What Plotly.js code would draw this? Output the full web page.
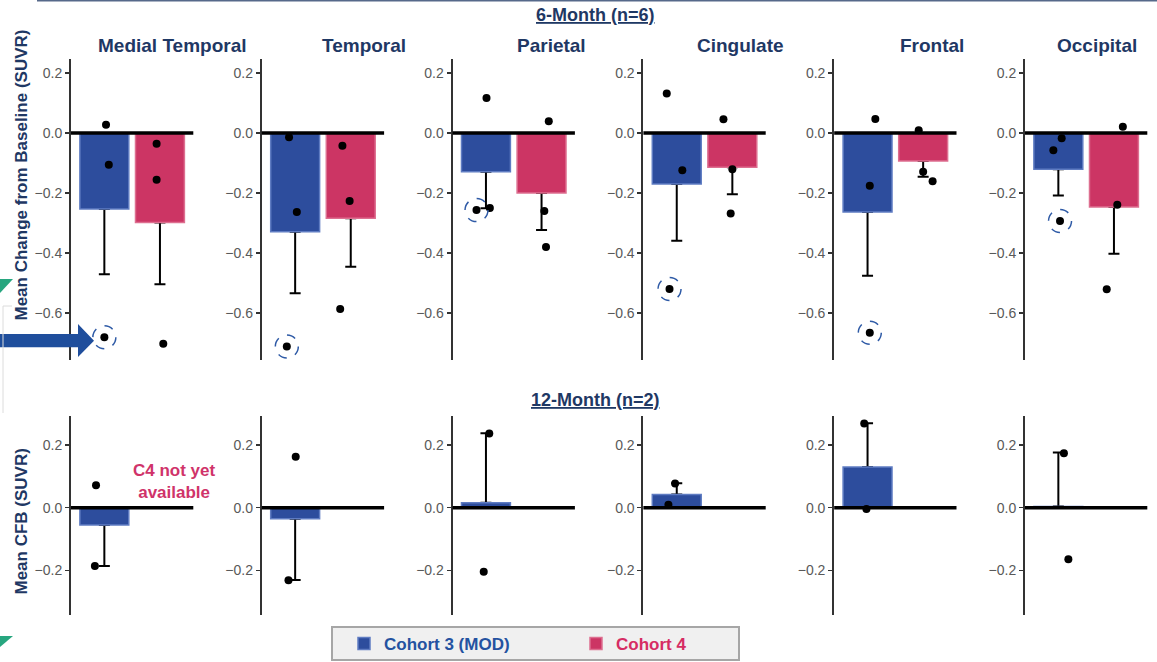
<!DOCTYPE html>
<html><head><meta charset="utf-8">
<script src="https://cdn.plot.ly/plotly-3.0.1.min.js"></script>
<style>html,body{margin:0;padding:0;background:#fff;} #chart{width:1157px;height:662px;}</style>
</head><body><div id="chart"></div>
<script>
// ---------------- DATA ----------------
const regions = ['Medial Temporal', 'Temporal', 'Parietal', 'Cingulate', 'Frontal', 'Occipital'];
const cohorts = ['Cohort 3 (MOD)', 'Cohort 4'];
const rowTitles = ['6-Month (n=6)', '12-Month (n=2)'];
const yTitles = ['Mean Change from Baseline (SUVR)', 'Mean CFB (SUVR)'];
const topTicks = [-0.6, -0.4, -0.2, 0.0, 0.2];
const bottomTicks = [-0.2, 0.0, 0.2];
const noteC4 = 'C4 not yet<br>available';

// 6-month, Cohort 3
const c3m6Mean = [-0.253, -0.329, -0.129, -0.170, -0.263, -0.121];
const c3m6SE   = [0.218, 0.205, 0.122, 0.189, 0.213, 0.087];
const c3m6Pts = [
  [0.028, -0.106, -0.681],
  [-0.014, -0.263, -0.712],
  [0.117, -0.250, -0.257],
  [0.132, -0.124, -0.520],
  [0.047, -0.176, -0.666],
  [-0.017, -0.057, -0.293]
];
const c3m6Jit = [
  [0.03, 0.08, 0.00],
  [-0.11, 0.03, -0.15],
  [0.01, 0.07, -0.17],
  [-0.18, 0.10, -0.13],
  [0.14, 0.04, 0.04],
  [0.06, -0.09, 0.03]
];
// 6-month, Cohort 4
const c4m6Mean = [-0.298, -0.284, -0.200, -0.114, -0.093, -0.247];
const c4m6SE   = [0.206, 0.162, 0.123, 0.090, 0.053, 0.156];
const c4m6Pts = [
  [-0.036, -0.156, -0.703],
  [-0.042, -0.227, -0.587],
  [0.039, -0.260, -0.380],
  [0.046, -0.121, -0.268],
  [0.009, -0.129, -0.161],
  [0.021, -0.239, -0.521]
];
const c4m6Jit = [
  [-0.06, -0.06, 0.06],
  [-0.15, -0.02, -0.19],
  [0.13, 0.05, 0.08],
  [-0.16, 0.00, -0.03],
  [-0.08, 0.00, 0.17],
  [0.16, 0.06, -0.13]
];
// 12-month, Cohort 3
const c3m12Mean = [-0.055, -0.035, 0.016, 0.042, 0.130, 0.004];
const c3m12SE   = [0.131, 0.196, 0.222, 0.036, 0.140, 0.172];
const c3m12Pts = [
  [0.072, -0.186],
  [0.163, -0.232],
  [0.237, -0.205],
  [0.077, 0.009],
  [0.269, -0.004],
  [0.174, -0.165]
];
const c3m12Jit = [
  [-0.15, -0.17],
  [0.01, -0.12],
  [0.06, -0.04],
  [-0.03, -0.15],
  [-0.06, -0.02],
  [0.10, 0.18]
];
const highlightIdx = 2; // circled participant in Cohort 3, 6-month

// ---------------- STYLE / LAYOUT ----------------
const W = 1157, H = 662;
const px = x => x / W;
const py = y => 1 - y / H;
const FONT = 'Liberation Sans, Arial, sans-serif';
const NAVY = '#1f3864';
const BLUE = '#2d4d9d', BLUE_EDGE = '#5f7cc2';
const PINK = '#cc3564', PINK_EDGE = '#dd6f90';
const LEG_BLUE = '#2452a0', LEG_PINK = '#d62c63';
const barW = 0.88;
const colX0 = 71, colStep = 190.8, colW = 122.3;
const rowsGeom = [
  {top: 59.3, bottom: 360, range: [-0.757, 0.246], ticks: topTicks},
  {top: 416, bottom: 615, range: [-0.343, 0.293], ticks: bottomTicks}
];

const traces = [];
const shapes = [];
const annotations = [];
const layout = {
  width: W, height: H,
  margin: {l: 0, r: 0, t: 0, b: 0},
  paper_bgcolor: '#fff', plot_bgcolor: 'rgba(0,0,0,0)',
  barmode: 'overlay',
  hovermode: false,
  font: {family: FONT},
  showlegend: true,
  legend: {
    orientation: 'h', x: px(344), xanchor: 'left', y: py(644), yanchor: 'middle',
    bgcolor: 'rgba(0,0,0,0)', borderwidth: 0,
    font: {family: FONT, size: 17, weight: 'bold', color: LEG_BLUE},
    entrywidth: 187, entrywidthmode: 'pixels', itemclick: false
  }
};

function axId(n) { return n === 1 ? '' : String(n); }

function addCohort(n, xPos, mean, se, pts, jit, color, edge, name, showLeg) {
  const xa = 'x' + axId(n), ya = 'y' + axId(n);
  const up = mean >= 0 ? se : 0, dn = mean < 0 ? se : 0;
  // error-bar carrier (drawn under the visible bar so only the outer cap shows)
  traces.push({
    type: 'bar', x: [xPos], y: [mean], width: [barW], xaxis: xa, yaxis: ya,
    marker: {color: 'rgba(0,0,0,0)'}, showlegend: false, hoverinfo: 'skip',
    error_y: {type: 'data', symmetric: false, array: [up], arrayminus: [dn],
              color: '#000', thickness: 2, width: 5.5}
  });
  traces.push({
    type: 'bar', x: [xPos], y: [mean], width: [barW], xaxis: xa, yaxis: ya,
    marker: {color: color, line: {color: edge, width: 1.5}},
    name: name, showlegend: showLeg, legendgroup: name
  });
  traces.push({
    type: 'scatter', mode: 'markers', xaxis: xa, yaxis: ya,
    x: jit.map(j => xPos + j), y: pts,
    marker: {color: '#000', size: 8}, showlegend: false, hoverinfo: 'skip'
  });
}

for (let r = 0; r < 2; r++) {
  const g = rowsGeom[r];
  for (let c = 0; c < 6; c++) {
    const n = r * 6 + c + 1;
    const x0 = colX0 + colStep * c;
    layout['xaxis' + axId(n)] = {
      domain: [px(x0), px(x0 + colW)], range: [-0.6, 1.6],
      visible: false, fixedrange: true, anchor: 'y' + axId(n)
    };
    layout['yaxis' + axId(n)] = {
      domain: [py(g.bottom), py(g.top)], range: g.range, anchor: 'x' + axId(n),
      showline: true, linecolor: '#333', linewidth: 2,
      ticks: 'outside', ticklen: 4, tickwidth: 1.5, tickcolor: '#333',
      tickvals: g.ticks, tickformat: '.1f',
      tickfont: {family: FONT, size: 14, color: '#595959'},
      showgrid: false, zeroline: false, fixedrange: true
    };
    // zero reference line
    shapes.push({type: 'line', layer: 'above', xref: 'x' + axId(n) + ' domain', x0: 0, x1: 1,
      yref: 'y' + axId(n), y0: 0, y1: 0, line: {color: '#000', width: 3.5}});

    if (r === 0) {
      addCohort(n, 0, c3m6Mean[c], c3m6SE[c], c3m6Pts[c], c3m6Jit[c], BLUE, BLUE_EDGE,
        '<span style="color:' + LEG_BLUE + '">' + cohorts[0] + '</span>', c === 0);
      addCohort(n, 1, c4m6Mean[c], c4m6SE[c], c4m6Pts[c], c4m6Jit[c], PINK, PINK_EDGE,
        '<span style="color:' + LEG_PINK + '">' + cohorts[1] + '</span>', c === 0);
      // dashed circle around highlighted participant
      shapes.push({type: 'circle', layer: 'above',
        xref: 'x' + axId(n), yref: 'y' + axId(n),
        xsizemode: 'pixel', ysizemode: 'pixel',
        xanchor: 0 + c3m6Jit[c][highlightIdx], yanchor: c3m6Pts[c][highlightIdx],
        x0: -11.5, x1: 11.5, y0: -11.5, y1: 11.5,
        line: {color: '#2e5aa6', width: 1.5, dash: 'dash'}});
    } else {
      addCohort(n, 0, c3m12Mean[c], c3m12SE[c], c3m12Pts[c], c3m12Jit[c], BLUE, BLUE_EDGE,
        cohorts[0], false);
    }
  }
}

// panel titles
const titleX = [172, 364, 551, 740, 932, 1097];
regions.forEach((t, i) => annotations.push({
  text: t, x: px(titleX[i]), y: py(46), xref: 'paper', yref: 'paper',
  xanchor: 'center', yanchor: 'middle', showarrow: false,
  font: {family: FONT, size: 19, color: NAVY, weight: 'bold'}
}));
// row titles
annotations.push({text: '<u>' + rowTitles[0] + '</u>', x: px(595), y: py(15), xref: 'paper', yref: 'paper',
  showarrow: false, xanchor: 'center', yanchor: 'middle', font: {family: FONT, size: 18, color: NAVY, weight: 'bold'}});
annotations.push({text: '<u>' + rowTitles[1] + '</u>', x: px(595.5), y: py(400), xref: 'paper', yref: 'paper',
  showarrow: false, xanchor: 'center', yanchor: 'middle', font: {family: FONT, size: 18, color: NAVY, weight: 'bold'}});
// y titles
annotations.push({text: yTitles[0], x: px(21), y: py(175.5), xref: 'paper', yref: 'paper', textangle: -90,
  showarrow: false, xanchor: 'center', yanchor: 'middle', font: {family: FONT, size: 17, color: NAVY, weight: 'bold'}});
annotations.push({text: yTitles[1], x: px(21), y: py(521.5), xref: 'paper', yref: 'paper', textangle: -90,
  showarrow: false, xanchor: 'center', yanchor: 'middle', font: {family: FONT, size: 17, color: NAVY, weight: 'bold'}});
// note
annotations.push({text: noteC4, x: px(174), y: py(481), xref: 'paper', yref: 'paper',
  showarrow: false, xanchor: 'center', yanchor: 'middle', align: 'center',
  font: {family: FONT, size: 17, color: '#d0336a', weight: 'bold'}});

// decorations (slide elements)
const P = (x, y) => px(x) + ',' + py(y);
shapes.push({type: 'line', xref: 'paper', yref: 'paper', x0: px(37), x1: 1, y0: py(0.8), y1: py(0.8),
  line: {color: '#56698a', width: 1.6}});
shapes.push({type: 'path', xref: 'paper', yref: 'paper', layer: 'above',
  path: 'M' + P(0, 334) + 'L' + P(78, 334) + 'L' + P(78, 324) + 'L' + P(94, 340.7) + 'L' + P(78, 357) + 'L' + P(78, 347.3) + 'L' + P(0, 347.3) + 'Z',
  fillcolor: '#1f4e9c', line: {width: 0}});
shapes.push({type: 'path', xref: 'paper', yref: 'paper',
  path: 'M' + P(0, 279) + 'L' + P(13, 279) + 'L' + P(0, 293) + 'Z', fillcolor: '#27a67f', line: {width: 0}});
shapes.push({type: 'path', xref: 'paper', yref: 'paper',
  path: 'M' + P(0, 636) + 'L' + P(13, 636) + 'L' + P(0, 647) + 'Z', fillcolor: '#27a67f', line: {width: 0}});
shapes.push({type: 'path', xref: 'paper', yref: 'paper',
  path: 'M' + P(12, 306) + 'L' + P(3, 306) + 'L' + P(3, 413), line: {color: '#dcdcdc', width: 1}});
// legend box
shapes.push({type: 'rect', xref: 'paper', yref: 'paper', layer: 'below',
  x0: px(332), x1: px(739), y0: py(660), y1: py(627),
  fillcolor: '#f0f0f0', line: {color: '#a6a6a6', width: 2}});

layout.shapes = shapes;
layout.annotations = annotations;

Plotly.newPlot('chart', traces, layout, {staticPlot: true, displayModeBar: false});
</script>
</body></html>
